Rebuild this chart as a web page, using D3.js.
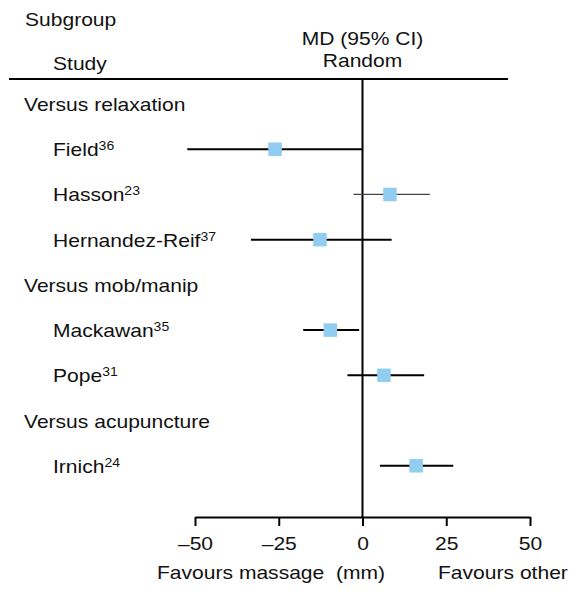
<!DOCTYPE html>
<html>
<head>
<meta charset="utf-8">
<script src="https://cdn.jsdelivr.net/npm/d3@7"></script>
<style>
  body { margin: 0; background: #fff; }
  text { font-family: "Liberation Sans", Arial, sans-serif; fill: #111; }
</style>
</head>
<body>
<div id="chart"></div>
<script>
// rows top to bottom (group headings and studies)
const rowLabels = ["Versus relaxation", "Field", "Hasson", "Hernandez-Reif",
                   "Versus mob/manip", "Mackawan", "Pope",
                   "Versus acupuncture", "Irnich"]
const rowIsGroup = [true, false, false, false, true, false, false, true, false]
const refs = ["", "36", "23", "37", "", "35", "31", "", "24"]

// studies with estimates
const studies = ["Field", "Hasson", "Hernandez-Reif", "Mackawan", "Pope", "Irnich"]
const md =    [-26.1,  8.2, -12.7,  -9.6,  6.4, 16.0]
const lower = [-52.3, -2.7, -33.3, -17.7, -4.5,  5.2]
const upper = [ -0.1, 20.1,   8.7,  -1.0, 18.4, 27.1]
const thin =  [false, true, false, false, false, false]

const tickValues = [-50, -25, 0, 25, 50]

const width = 570
const height = 593
const fs = "18px"
const sx = 1.17   // the original lettering is a bit wide

const svg = d3.select("#chart").append("svg")
    .attr("width", width)
    .attr("height", height)

const x = d3.scaleLinear().domain([-50, 50]).range([195, 530])
const y = d3.scalePoint().domain(d3.range(rowLabels.length + 1)).range([104, 511])
const axisY = 517

function addText(px, py, str, anchor){
    return svg.append("g")
        .attr("transform", "translate(" + px + "," + py + ") scale(" + sx + ",1)")
        .append("text")
        .attr("text-anchor", anchor || "start")
        .style("font-size", fs)
        .text(str)
}

// header
addText(25, 26, "Subgroup")
addText(53, 70, "Study")
addText(x(0), 45, "MD (95% CI)", "middle")
addText(x(0), 67, "Random", "middle")

svg.append("line")
    .attr("x1", 9).attr("x2", 508).attr("y1", 79).attr("y2", 79)
    .attr("stroke", "#000").attr("stroke-width", 2)

// row labels
rowLabels.forEach(function(lab, i){
    let t = addText(rowIsGroup[i] ? 24 : 53, y(i) + 7, lab)
    if (refs[i]) {
        t.append("tspan").attr("dy", -6).style("font-size", "12px").text(refs[i])
    }
})

// line of no effect
svg.append("line")
    .attr("x1", x(0)).attr("x2", x(0)).attr("y1", 79).attr("y2", axisY)
    .attr("stroke", "#000").attr("stroke-width", 2)

// confidence intervals and point estimates
const data = studies.map(function(s, i){
    return {name: s, md: md[i], lo: lower[i], hi: upper[i], thin: thin[i], row: rowLabels.indexOf(s)}
})

svg.selectAll(".ci")
    .data(data)
    .enter()
    .append("line")
    .attr("class", "ci")
    .attr("x1", d => x(d.lo))
    .attr("x2", d => x(d.hi))
    .attr("y1", d => y(d.row))
    .attr("y2", d => y(d.row))
    .attr("stroke", d => d.thin ? "#444" : "#000")
    .attr("stroke-width", d => d.thin ? 1.2 : 2)

const sq = 13.5
svg.selectAll(".pt")
    .data(data)
    .enter()
    .append("rect")
    .attr("class", "pt")
    .attr("x", d => x(d.md) - sq / 2)
    .attr("y", d => y(d.row) - sq / 2)
    .attr("width", sq)
    .attr("height", sq)
    .attr("fill", "#90cdf0")

// axis
const axis = d3.axisBottom(x)
    .tickValues(tickValues)
    .tickSize(9)
    .tickSizeOuter(0)
    .tickPadding(11)
    .tickFormat(d => d < 0 ? "\u2013" + Math.abs(d) : d)

const ag = svg.append("g").attr("transform", "translate(0," + axisY + ")").call(axis)
ag.select(".domain").attr("stroke", "#000").attr("stroke-width", 2)
ag.selectAll(".tick line").attr("stroke", "#000").attr("stroke-width", 2)
ag.selectAll(".tick text")
    .style("font-size", fs)
    .style("font-family", "'Liberation Sans', Arial, sans-serif")
    .attr("fill", "#111")
    .attr("transform", "scale(" + sx + ",1)")

addText(157, 579, "Favours massage  (mm)").attr("xml:space", "preserve")
addText(438, 579, "Favours other")
</script>
</body>
</html>
